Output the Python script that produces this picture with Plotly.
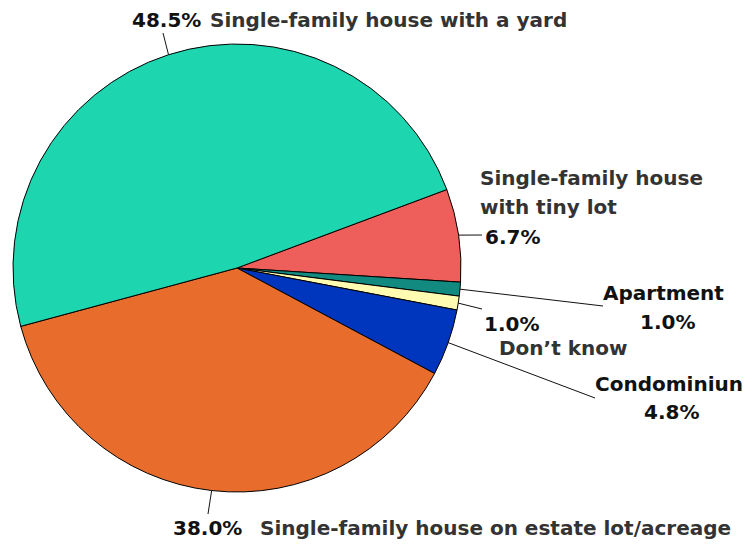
import math
import plotly.graph_objects as go

labels = ["Single-family house with tiny lot", "Apartment", "Don't know", "Condominium",
          "Single-family house on estate lot/acreage", "Single-family house with a yard"]
values = [6.7, 1.0, 1.0, 4.8, 38.0, 48.5]
colors = ["#EE5E5A", "#138A80", "#FFFBB0", "#0035BE", "#E86C2C", "#1DD6B0"]
start_bearing = 69.5

W, H = 751, 545
OX, OY = 8, 8  # page body margin offset
cx, cy, r = 237 - OX, 268 - OY, 224

fig = go.Figure(go.Pie(
    labels=labels, values=values, sort=False, direction="clockwise",
    rotation=start_bearing, marker=dict(colors=colors, line=dict(color="#000000", width=1)),
    textinfo="none", hoverinfo="label+percent", showlegend=False,
    domain=dict(x=[(cx - r) / W, (cx + r) / W], y=[(H - cy - r) / H, (H - cy + r) / H]),
))

def px_(x):
    return (x - OX) / W

def py_(y):
    return 1 - (y - OY) / H

# leader lines: from slice mid-angle on rim to label position
ends = [(482, 235), (603, 306), (482, 309), (595, 398), (208, 514), (163, 33)]
total = sum(values)
cum = 0
shapes = []
for v, (ex, ey) in zip(values, ends):
    mid = start_bearing + (cum + v / 2) / total * 360
    cum += v
    a = math.radians(mid)
    sx = cx + r * math.sin(a)
    sy = cy - r * math.cos(a)
    shapes.append(dict(type="line", xref="paper", yref="paper",
                       x0=sx / W, y0=1 - sy / H, x1=px_(ex), y1=py_(ey),
                       line=dict(color="#111111", width=1)))

FONT = "DejaVu Sans"
LBL = "#333333"
PCT = "#111111"

def ann(x, y, text, color, xanchor="left", size=20):
    return dict(x=px_(x), y=py_(y), xref="paper", yref="paper", text="<b>" + text + "</b>",
                showarrow=False, xanchor=xanchor, yanchor="middle", borderpad=0,
                font=dict(family=FONT, size=size, color=color))

pct = [f"{v:.1f}%" for v in values]
annotations = [
    ann(131, 20, pct[5], PCT),
    ann(209, 20, "Single-family house with a yard", LBL),
    ann(479, 178, "Single-family house", LBL),
    ann(479, 207, "with tiny lot", LBL),
    ann(484, 237, pct[0], PCT),
    ann(663, 293, "Apartment", PCT, "center"),
    ann(667, 322, pct[1], PCT, "center"),
    ann(483, 324, pct[2], PCT),
    ann(498, 348, "Don’t know", LBL),
    ann(594, 384, "Condominiun", PCT),
    ann(671, 412, pct[3], PCT, "center"),
    ann(172, 528, pct[4], PCT),
    ann(259, 528, "Single-family house on estate lot/acreage", LBL),
]

fig.update_layout(width=W, height=H, margin=dict(l=0, r=0, t=0, b=0),
                  paper_bgcolor="white", plot_bgcolor="white",
                  shapes=shapes, annotations=annotations)
fig.write_html("out.html")
